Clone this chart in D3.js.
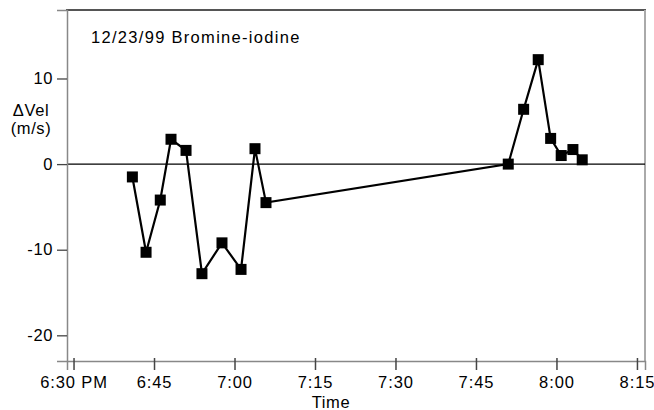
<!DOCTYPE html>
<html>
<head>
<meta charset="utf-8">
<script src="https://cdn.jsdelivr.net/npm/d3@7"></script>
<style>
  body { margin: 0; background: #fff; }
  text { font-family: "Liberation Sans", Arial, Helvetica, sans-serif; fill: #000; }
</style>
</head>
<body>
<div id="chart"></div>
<script>
const times = [
  "18:40:58", "18:43:31", "18:46:10", "18:48:10", "18:50:58", "18:53:56",
  "18:57:40", "19:01:13", "19:03:49", "19:05:52", "19:51:01", "19:53:53",
  "19:56:36", "19:58:55", "20:00:53", "20:03:04", "20:04:48"
];
const dVel = [
  -1.5, -10.3, -4.2, 2.9, 1.6, -12.8,
  -9.2, -12.3, 1.8, -4.5, 0.0, 6.4,
  12.2, 3.0, 1.0, 1.7, 0.5
];
const xTicks = ["18:30", "18:45", "19:00", "19:15", "19:30", "19:45", "20:00", "20:15"];
const yTicks = [-20, -10, 0, 10];
const title = "12/23/99 Bromine-iodine";

const width = 654;
const height = 410;
const margin = { top: 10, right: 9, bottom: 49, left: 67 };

const parseT = d3.timeParse("%H:%M:%S");
const parseTick = d3.timeParse("%H:%M");
const data = times.map((t, i) => ({ t: parseT(t), v: dVel[i] }));

const x = d3
  .scaleTime()
  .domain([parseT("18:28:47"), parseT("20:16:30")])
  .range([margin.left, width - margin.right]);

const y = d3
  .scaleLinear()
  .domain([-23, 18])
  .range([height - margin.bottom, margin.top]);

const svg = d3
  .select("#chart")
  .append("svg")
  .attr("width", width)
  .attr("height", height);

// frame
const x0 = x.range()[0], x1 = x.range()[1];
const y0 = y.range()[1], y1 = y.range()[0];
svg.append("line").attr("x1", x0 - 1).attr("x2", x1 + 1).attr("y1", y0).attr("y2", y0)
  .attr("stroke", "#555").attr("stroke-width", 2);
svg.append("line").attr("x1", x1).attr("x2", x1).attr("y1", y0).attr("y2", y1)
  .attr("stroke", "#aaa").attr("stroke-width", 2);

// zero line
svg.append("line").attr("x1", x0).attr("x2", x1).attr("y1", y(0)).attr("y2", y(0))
  .attr("stroke", "#000").attr("stroke-width", 1.2);

const fmt = d3.timeFormat("%-I:%M");
const xAxis = svg
  .append("g")
  .attr("transform", `translate(0,${y1})`)
  .call(
    d3.axisBottom(x)
      .tickValues(xTicks.map(parseTick))
      .tickSize(9)
      .tickPadding(6)
      .tickFormat((d, i) => (i === 0 ? fmt(d) + " PM" : fmt(d)))
  );
xAxis.select(".domain").attr("stroke", "#888").attr("stroke-width", 1.5);
xAxis.selectAll(".tick line").attr("stroke", "#444").attr("stroke-width", 1.5).attr("y1", -3);
xAxis.selectAll(".tick text")
  .attr("font-size", 16.5)
  .attr("letter-spacing", 0.9)
  .attr("font-family", "Liberation Sans, Arial, sans-serif")
  .attr("fill", "#000");

const yAxis = svg
  .append("g")
  .attr("transform", `translate(${x0},0)`)
  .call(
    d3.axisLeft(y)
      .tickValues(yTicks)
      .tickSize(10)
      .tickPadding(4)
      .tickFormat((d) => String(d))
  );
yAxis.select(".domain").attr("stroke", "#888").attr("stroke-width", 1.5);
yAxis.selectAll(".tick line").attr("stroke", "#444").attr("stroke-width", 1.3);
yAxis.selectAll(".tick text")
  .attr("font-size", 16.5)
  .attr("letter-spacing", 0.6)
  .attr("font-family", "Liberation Sans, Arial, sans-serif")
  .attr("fill", "#000");

// series
const line = d3.line().x((d) => x(d.t)).y((d) => y(d.v));
svg.append("path")
  .datum(data)
  .attr("fill", "none")
  .attr("stroke", "#000")
  .attr("stroke-width", 2.2)
  .attr("d", line);

const s = 11;
svg.append("g")
  .selectAll("rect")
  .data(data)
  .join("rect")
  .attr("x", (d) => x(d.t) - s / 2)
  .attr("y", (d) => y(d.v) - s / 2)
  .attr("width", s)
  .attr("height", s)
  .attr("fill", "#000");

// labels
svg.append("text")
  .attr("x", 91)
  .attr("y", 43)
  .attr("font-size", 16.5)
  .attr("letter-spacing", 1.3)
  .text(title);

svg.append("text")
  .attr("x", 31)
  .attr("y", 116)
  .attr("text-anchor", "middle")
  .attr("font-size", 16.5)
  .attr("letter-spacing", 0.6)
  .text("\u0394Vel");

svg.append("text")
  .attr("x", 31)
  .attr("y", 134)
  .attr("text-anchor", "middle")
  .attr("font-size", 16.5)
  .attr("letter-spacing", 0.6)
  .text("(m/s)");

svg.append("text")
  .attr("x", 331)
  .attr("y", 408)
  .attr("text-anchor", "middle")
  .attr("font-size", 16.5)
  .attr("letter-spacing", 0.6)
  .text("Time");
</script>
</body>
</html>
